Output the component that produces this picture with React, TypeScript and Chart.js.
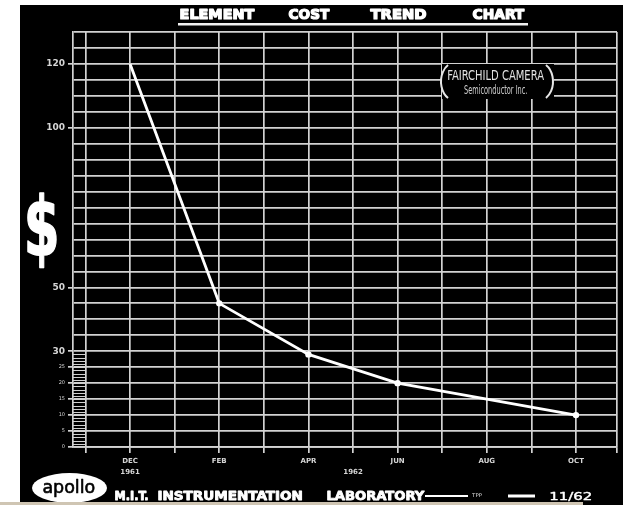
import React, { useEffect, useRef } from 'react';
import { Chart, registerables } from 'chart.js';

Chart.register(...registerables);

// ---- data ----
const monthOffsets = [0, 2, 4, 6, 10]; // months after Dec 1961
const costDollars = [120, 45, 29, 20, 10];
const xTickMonths = [-1, 0, 1, 2, 3, 4, 5, 6, 7, 8, 9, 10];
const xTickLabels: (string | string[])[] = ['', ['DEC', '1961'], '', 'FEB', '', 'APR', ['', '1962'], 'JUN', '', 'AUG', '', 'OCT'];
const yLabeledTicks = [0, 5, 10, 15, 20, 25, 30, 50, 100, 120];
const yBigLabels = [30, 50, 100, 120];
const titleWords = ['ELEMENT', 'COST', 'TREND', 'CHART'];
const footerWords = ['M.I.T.', 'INSTRUMENTATION', 'LABORATORY'];
const footerDate = '11/62';
const logoText = 'apollo';
const sourceLines = ['FAIRCHILD CAMERA', 'Semiconductor Inc.'];
const axisSymbol = '$';

const X_MIN = -1.28;
const X_MAX = 10.92;
const Y_MAX = 130;
const GRID = '#d2d2d2';
const SANS = '"DejaVu Sans", sans-serif';
const COND = '"DejaVu Sans Condensed", "Liberation Sans Narrow", "DejaVu Sans", sans-serif';

function fitText(ctx: CanvasRenderingContext2D, text: string, x0: number, y0: number, x1: number, y1: number, font: string, color: string, stroke = 0) {
  ctx.save();
  ctx.font = font;
  ctx.textAlign = 'left';
  ctx.textBaseline = 'alphabetic';
  const m = ctx.measureText(text);
  const inkW = m.actualBoundingBoxLeft + m.actualBoundingBoxRight;
  const inkH = m.actualBoundingBoxAscent + m.actualBoundingBoxDescent;
  const pad = stroke / 2;
  const sx = (x1 - x0 - stroke) / inkW;
  const sy = (y1 - y0 - stroke) / inkH;
  ctx.translate(x0 + pad, y0 + pad);
  ctx.scale(sx, sy);
  ctx.fillStyle = color;
  ctx.fillText(text, m.actualBoundingBoxLeft, m.actualBoundingBoxAscent);
  if (stroke > 0) {
    ctx.strokeStyle = color;
    ctx.lineJoin = 'round';
    ctx.lineWidth = stroke / Math.min(sx, sy);
    ctx.strokeText(text, m.actualBoundingBoxLeft, m.actualBoundingBoxAscent);
  }
  ctx.restore();
}

const decor = {
  id: 'decor',
  beforeDraw(chart: any) {
    const { ctx, width, height } = chart;
    ctx.save();
    ctx.fillStyle = '#ffffff';
    ctx.fillRect(0, 0, width, height);
    ctx.fillStyle = '#000000';
    ctx.fillRect(20, 5, width - 20, height - 5);
    ctx.restore();
  },
  beforeDatasetsDraw(chart: any) {
    const { ctx, chartArea, scales } = chart;
    const xs = scales.x;
    const ys = scales.y;
    ctx.save();
    // fine ladder between the double left border lines
    ctx.strokeStyle = GRID;
    ctx.lineWidth = 1;
    const xl = chartArea.left;
    const xr = xs.getPixelForValue(-1);
    for (let v = 1; v < 30; v++) {
      const y = Math.round(ys.getPixelForValue(v)) + 0.5;
      ctx.beginPath();
      ctx.moveTo(xl, y);
      ctx.lineTo(xr, y);
      ctx.stroke();
    }
    // source label box
    ctx.fillStyle = '#000';
    ctx.fillRect(442, 64, 112, 35);
    ctx.strokeStyle = '#e6e6e6';
    ctx.lineWidth = 2;
    const a = Math.asin(0.868);
    ctx.beginPath();
    ctx.ellipse(455, 81.5, 14, 19, 0, Math.PI - a, Math.PI + a, false);
    ctx.stroke();
    ctx.beginPath();
    ctx.ellipse(539, 81.5, 14, 19, 0, -a, a, false);
    ctx.stroke();
    ctx.restore();
    fitText(ctx, sourceLines[0], 448, 70, 544, 80, '13px ' + COND, '#e2e2e2');
    fitText(ctx, sourceLines[1], 464, 85, 527, 94, '9px ' + COND, '#d0d0d0');
  },
  afterDraw(chart: any) {
    const { ctx, height } = chart;
    // title
    const tBoxes = [[180, 255], [288, 330], [370, 427], [472, 525]];
    titleWords.forEach((w, i) => fitText(ctx, w, tBoxes[i][0], 8, tBoxes[i][1], 20, 'bold 16px ' + COND, '#ffffff', 1.2));
    ctx.save();
    ctx.fillStyle = '#f0f0f0';
    ctx.fillRect(178, 23, 350, 2.5);
    ctx.restore();
    // dollar sign
    fitText(ctx, axisSymbol, 27, 193, 57, 268, 'bold 80px ' + SANS, '#ffffff', 1);
    // footer
    ctx.save();
    ctx.fillStyle = '#ffffff';
    ctx.beginPath();
    ctx.ellipse(69.5, 488, 37.5, 15, 0, 0, Math.PI * 2);
    ctx.fill();
    ctx.restore();
    fitText(ctx, logoText, 43, 478, 95, 497, '19px ' + SANS, '#000000', 0.6);
    const fBoxes = [[115, 148], [158, 303], [327, 425]];
    footerWords.forEach((w, i) => fitText(ctx, w, fBoxes[i][0], 489, fBoxes[i][1], 500, 'bold 15px ' + COND, '#ffffff', 0.8));
    ctx.save();
    ctx.fillStyle = '#ffffff';
    ctx.fillRect(425, 495, 43, 2);
    ctx.fillRect(508, 494.5, 27, 3);
    ctx.restore();
    fitText(ctx, 'TPP', 471, 493, 482, 497, '5px ' + SANS, '#dddddd');
    fitText(ctx, footerDate, 550, 491, 592, 501, '15px ' + SANS, '#ffffff', 0.4);
    // bottom paper strip
    ctx.save();
    ctx.fillStyle = '#cfc5b3';
    ctx.fillRect(0, 502, 583, height - 502);
    ctx.restore();
  },
};

export default function App() {
  const ref = useRef<HTMLCanvasElement | null>(null);
  useEffect(() => {
    if (!ref.current) return;
    Chart.defaults.font.family = SANS;
    const chart = new Chart(ref.current, {
      type: 'line',
      data: {
        datasets: [
          {
            data: monthOffsets.map((m, i) => ({ x: m, y: costDollars[i] })),
            borderColor: '#ffffff',
            borderWidth: 2.8,
            pointRadius: (c: any) => (c.dataIndex === 0 ? 0 : 3.2),
            pointBackgroundColor: '#ffffff',
            pointBorderWidth: 0,
            tension: 0,
          },
        ],
      },
      options: {
        animation: false,
        responsive: false,
        layout: { padding: { left: 20, right: 6, top: 32, bottom: 18 } },
        plugins: { legend: { display: false }, title: { display: false }, tooltip: { enabled: false } },
        scales: {
          x: {
            type: 'linear',
            min: X_MIN,
            max: X_MAX,
            afterBuildTicks: (s: any) => {
              s.ticks = [...xTickMonths, X_MAX].map((v) => ({ value: v }));
            },
            afterFit: (s: any) => {
              s.height = 40;
            },
            grid: { color: GRID, lineWidth: 1.7, tickLength: 6, tickColor: GRID, drawTicks: true },
            border: { display: true, color: GRID, width: 1.7 },
            ticks: {
              autoSkip: false,
              maxRotation: 0,
              padding: 3,
              color: '#d6d6d6',
              font: { family: SANS, size: 7, weight: 'bold', lineHeight: 1.55 },
              callback: (v: any) => {
                const i = xTickMonths.indexOf(v);
                return i >= 0 ? xTickLabels[i] : '';
              },
            },
          },
          y: {
            type: 'linear',
            min: 0,
            max: Y_MAX,
            afterFit: (s: any) => {
              s.width = 53;
            },
            grid: {
              color: GRID,
              lineWidth: 1.7,
              tickLength: 5,
              tickColor: (c: any) => (c.tick && yLabeledTicks.includes(c.tick.value) ? GRID : 'rgba(0,0,0,0)'),
            },
            border: { display: true, color: GRID, width: 1.7 },
            ticks: {
              stepSize: 5,
              autoSkip: false,
              padding: 3,
              color: '#d6d6d6',
              font: (c: any) =>
                c.tick && yBigLabels.includes(c.tick.value)
                  ? { family: SANS, size: 9, weight: 'bold' }
                  : { family: SANS, size: 5 },
              callback: (v: any) => (yLabeledTicks.includes(v) ? String(v) : ''),
            },
          },
        },
      },
      plugins: [decor],
    } as any);
    return () => chart.destroy();
  }, []);
  return (
    <div style={{ position: 'fixed', left: 0, top: 0, width: 623, height: 505, background: '#fff' }}>
      <canvas ref={ref} width={623} height={505} style={{ width: 623, height: 505, display: 'block' }} />
    </div>
  );
}
